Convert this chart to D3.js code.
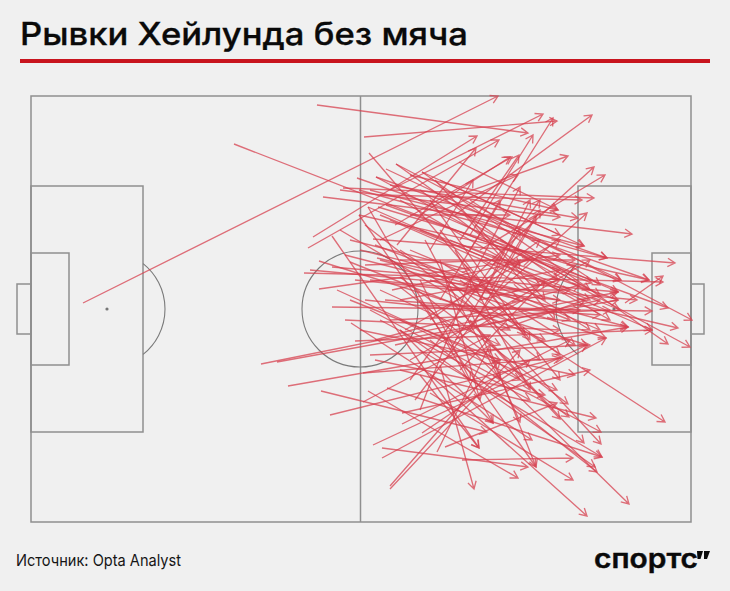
<!DOCTYPE html>
<html lang="ru"><head><meta charset="utf-8">
<script src="https://cdn.jsdelivr.net/npm/d3@7"></script>
<style>html,body{margin:0;padding:0;background:#f0f0f0}svg{display:block}</style>
</head><body><div id="chart"></div>
<script>
const titleText = "Рывки Хейлунда без мяча";
const sourceText = "Источник: Opta Analyst";
const logoText = "спортс";
// Runs in pitch units [startX, startY, endX, endY]; pitch = 660 x 426
const upwardRuns = [
[52,207,467,0],[333,41,526,25],[282,141,446,40],[277,152,468,44],[366,149,445,52],[359,94,512,18],
[439,154,522,22],[424,119,561,19],[414,104,537,60],[439,184,563,71],[449,154,574,79],[469,194,556,117],
[429,144,488,59],[439,139,502,39],[389,119,479,61],[399,154,442,84],[364,129,481,61],[349,144,487,79],
[439,184,489,91],[449,204,499,104],[459,194,505,119],[594,207,632,180],[351,362,575,242],[342,349,556,249],
[414,351,526,307],[359,390,469,264],[359,393,489,254],[406,356,459,249],[391,337,499,264],[371,328,539,244],
[371,317,559,274],[332,306,459,239],[299,319,529,262],[230,268,587,196],[246,266,587,204],[257,290,597,231],
[332,277,532,262],[324,245,621,234],[288,193,529,159],[431,364,542,362]];
const downwardRuns = [
[286,9,497,37],[203,48,561,187],[338,57,494,239],[365,68,527,184],[391,76,553,150],[428,66,527,114],
[355,73,590,184],[345,81,576,162],[326,82,618,184],[292,101,601,138],[312,92,563,102],[349,99,551,104],
[359,89,547,122],[379,79,527,114],[309,94,529,121],[301,140,448,352],[328,119,505,371],[337,111,462,327],
[342,143,644,167],[328,119,618,184],[365,68,661,224],[345,81,659,251],[391,76,637,248],[346,162,647,232],
[337,111,621,234],[355,109,637,212],[347,111,590,184],[273,177,632,186],[279,174,606,204],[288,165,556,249],
[301,171,587,196],[306,194,526,294],[301,211,621,215],[334,204,597,231],[320,227,501,344],[339,94,553,150],
[328,94,576,162],[290,295,456,336],[337,295,487,382],[356,292,571,361],[351,352,497,371],[369,181,537,308],
[369,191,538,321],[419,204,529,323],[369,274,565,322],[339,214,570,336],[439,224,553,347],[409,174,570,348],
[389,254,571,361],[399,244,566,376],[369,234,564,371],[399,297,542,384],[459,254,505,371],[409,269,443,393],
[389,279,448,352],[399,279,556,420],[369,154,634,326],[389,204,598,408],[369,234,462,327],[439,214,489,326]];
const centralRuns = [
[309,134,479,234],[314,159,489,204],[319,166,514,244],[324,184,529,204],[334,129,509,264],[344,149,539,224],
[349,119,559,204],[354,204,569,219],[359,224,579,214],[364,249,569,204],[339,259,559,249],[344,244,549,189],
[374,234,529,144],[379,284,509,104],[384,304,489,164],[389,314,439,184],[394,144,469,284],[399,104,499,244],
[404,84,514,204],[409,134,529,284],[414,169,544,249],[419,194,539,194],[424,244,559,164],[429,274,514,184],
[434,119,524,224],[444,129,559,194],[319,204,469,264],[314,224,529,234],[329,234,544,279],[344,264,514,299],
[349,224,499,304],[334,169,469,164],[361,194,499,164],[369,164,544,164],[379,119,479,119],[389,209,549,214],
[449,204,529,184],[469,234,554,204]];
const coreRuns = [
[369,104,579,224],[389,134,587,204],[409,119,587,196],[349,164,597,231],[399,184,575,242],[379,154,569,234],
[419,144,589,214],[439,104,569,189],[359,124,509,189],[389,94,489,169],[409,84,529,139],[329,154,489,194],
[369,204,529,174],[379,264,544,169],[399,224,509,144],[409,204,469,104],[419,254,489,134],[439,234,509,114],
[389,184,439,284],[409,164,449,304],[424,154,499,294],[369,224,489,284],[349,194,469,249],[429,184,529,259],
[449,164,559,234],[319,144,439,174],[339,184,449,194],[469,144,569,199]];
// Pitch markings in pitch units [x0, y0, x1, y1]
const pitchBoxes = [[0,0,660,426],[0,90,112,336],[0,157,38,269],[-14,188,0,238],[547,90,660,336],[621,157,660,269],[660,188,673,238]];
const halfwayX = [329.5];
const centre = [329, 213];
const circleRadius = 58;
const penaltySpots = [76, 583];
const penaltyArcHalfAngle = 51.5;

const W = 730, H = 591;
const x = d3.scaleLinear().domain([0,660]).range([31,691]);
const y = d3.scaleLinear().domain([0,426]).range([96,522]);
const svg = d3.select("#chart").append("svg").attr("width",W).attr("height",H).attr("viewBox",`0 0 ${W} ${H}`);
svg.append("rect").attr("width",W).attr("height",H).attr("fill","#f0f0f0");

const blur = svg.append("defs").append("filter").attr("id","soft");
blur.append("feGaussianBlur").attr("stdDeviation",0.3);

svg.append("text").attr("x",20).attr("y",45).attr("font-family","Inter, 'Noto Sans', sans-serif")
  .attr("font-size",31).attr("font-weight",500).attr("fill","#0a0a0a").attr("stroke","#0a0a0a").attr("stroke-width",0.3)
  .attr("textLength",448).attr("lengthAdjust","spacingAndGlyphs").text(titleText);
svg.append("rect").attr("x",20).attr("y",59).attr("width",690).attr("height",4).attr("fill","#c8141e");

const pitch = svg.append("g").attr("fill","none").attr("stroke","#8f8f8f").attr("stroke-width",1.5);
pitch.selectAll("rect").data(pitchBoxes).join("rect")
  .attr("x",d=>x(d[0])).attr("y",d=>y(d[1])).attr("width",d=>x(d[2])-x(d[0])).attr("height",d=>y(d[3])-y(d[1]));
pitch.selectAll("line").data(halfwayX).join("line")
  .attr("x1",d=>x(d)).attr("x2",d=>x(d)).attr("y1",y(0)).attr("y2",y(426));
pitch.append("circle").attr("cx",x(centre[0])).attr("cy",y(centre[1])).attr("r",circleRadius).attr("stroke-width",1.1).attr("stroke","#7a7a7a");
const arc = d3.arc().innerRadius(circleRadius).outerRadius(circleRadius);
const a = penaltyArcHalfAngle*Math.PI/180;
pitch.append("path").attr("stroke-width",1.1).attr("stroke","#7a7a7a").attr("transform",`translate(${x(penaltySpots[0])},${y(centre[1])})`)
  .attr("d",arc({startAngle:Math.PI/2-a,endAngle:Math.PI/2+a}));
pitch.append("path").attr("stroke-width",1.1).attr("stroke","#7a7a7a").attr("transform",`translate(${x(penaltySpots[1])},${y(centre[1])})`)
  .attr("d",arc({startAngle:-Math.PI/2-a,endAngle:-Math.PI/2+a}));
svg.selectAll("circle.spot").data(penaltySpots).join("circle").attr("class","spot")
  .attr("cx",d=>x(d)).attr("cy",y(centre[1])).attr("r",1.6).attr("fill","#777");

const runs = [...upwardRuns,...downwardRuns,...centralRuns,...coreRuns];
const head = 8.5, spread = 0.52;
const runPath = d => {
  const x0=x(d[0]),y0=y(d[1]),x1=x(d[2]),y1=y(d[3]);
  const t=Math.atan2(y1-y0,x1-x0);
  const p=s=>[x1-head*Math.cos(t+s),y1-head*Math.sin(t+s)];
  const A=p(spread),B=p(-spread);
  return `M${x0},${y0}L${x1},${y1}M${A}L${x1},${y1}L${B}`;
};
svg.append("g").attr("fill","none").attr("stroke","#d63f4e").attr("stroke-opacity",0.74).attr("stroke-width",1.35)
  .attr("filter","url(#soft)")
  .selectAll("path").data(runs).join("path").attr("d",runPath);

svg.append("text").attr("x",16).attr("y",566).attr("font-family","Inter, sans-serif").attr("font-size",16.5)
  .attr("fill","#151515").attr("textLength",165).attr("lengthAdjust","spacingAndGlyphs").text(sourceText);
svg.append("text").attr("x",594).attr("y",568).attr("font-family","Inter, sans-serif").attr("font-size",26)
  .attr("font-weight",600).attr("fill","#0a0a0a").attr("stroke","#0a0a0a").attr("stroke-width",0.4)
  .attr("textLength",104).attr("lengthAdjust","spacingAndGlyphs").text(logoText);
svg.append("path").attr("fill","#0a0a0a").attr("d","M697 551h6l-2.5 8h-3zM704 551h6l-3 8h-3z");
</script></body></html>
